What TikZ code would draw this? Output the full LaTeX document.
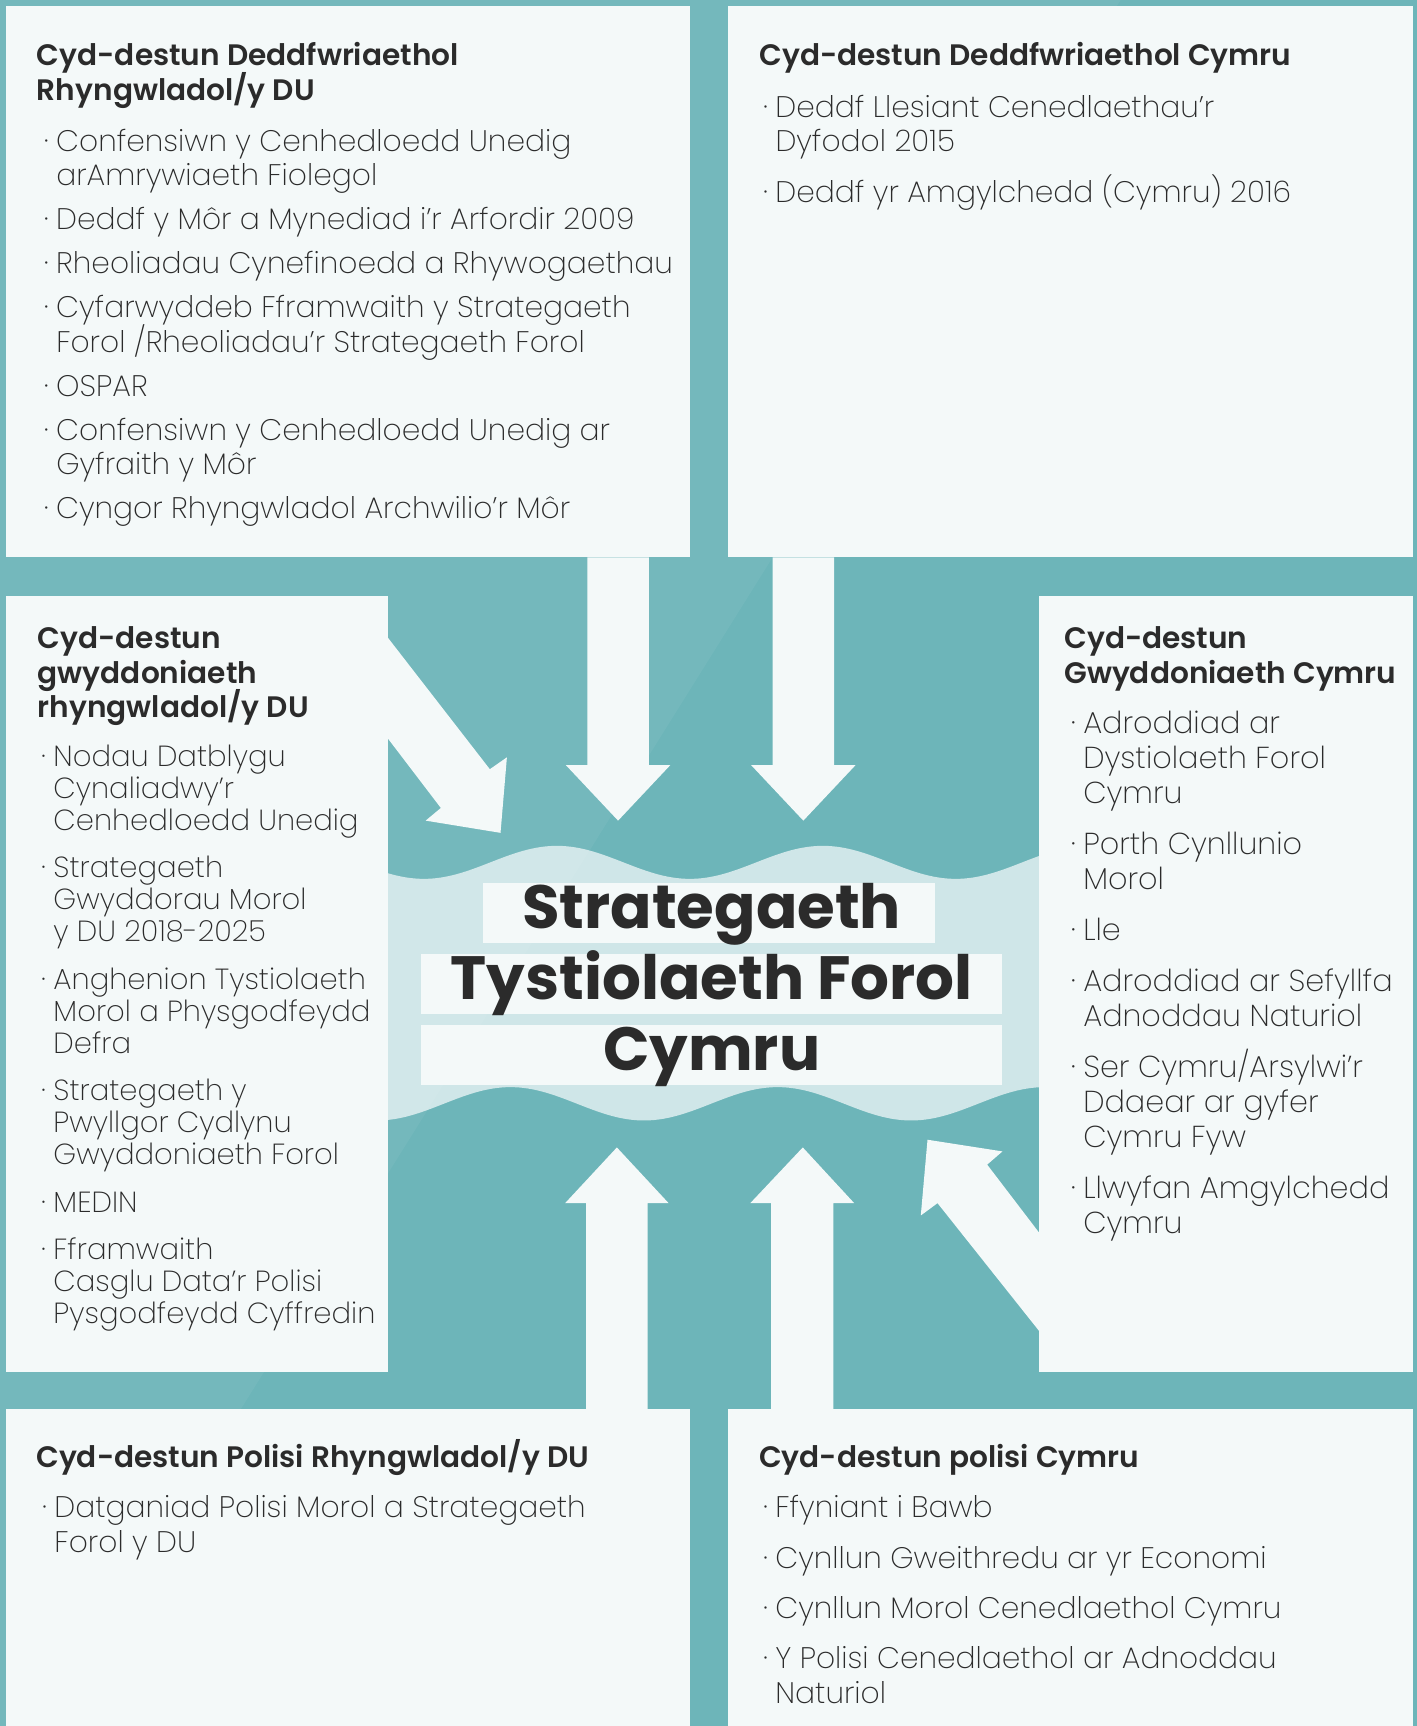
\documentclass[tikz,border=0pt]{standalone}
\usepackage{fontspec}
\setmainfont{Poppins ExtraLight}[BoldFont={Poppins SemiBold}]
\newfontfamily\titlefont{Poppins Bold}
\usetikzlibrary{positioning}

\definecolor{sea}{HTML}{6DB5B9}
\definecolor{paper}{HTML}{F4F9F9}
\definecolor{shallow}{HTML}{CFE6E8}
\definecolor{ink}{HTML}{2B2B2B}

\newcommand{\dotitem}{\llap{·\hspace{7pt}}}
% lines on a fixed baseline grid, \gap between items
\newcommand{\stack}[2][0pt]{\vtop{\lineskiplimit=-\maxdimen\let\\\cr\def\gap{\noalign{\vskip#1}}\halign{##\hfil\cr#2\crcr}}}

\begin{document}
\begin{tikzpicture}[x=1pt,y=-1pt,
    panel/.style={fill=paper,inner sep=0pt,anchor=north west},
    head/.style={inner sep=0pt,anchor=base west,text=ink,font=\fontsize{26.9}{31.3}\selectfont\bfseries},
    list/.style={inner sep=0pt,anchor=base west,text=ink,font=\fontsize{27}{31.3}\selectfont},
    titlebar/.style={fill=paper,inner sep=0pt,text height=41.5pt,text depth=13.5pt,text=ink,font=\titlefont\fontsize{55.5}{60}\selectfont},
    blockarrow/.style={fill=paper}]

    \useasboundingbox (0,0) rectangle (1287,1568);
    \fill[sea] (0,0) rectangle (1287,1568);

    % sea band with waves
    \fill[shallow] plot[domain=352:944,samples=150] (\x,{783.4-15*cos(((\x-505.9)/241.6)*360)})
        -- plot[domain=944:352,samples=150] (\x,{1002.75-15.15*cos(((\x-463.7)/242.7)*360)}) -- cycle;
    \fill[white,opacity=.05] (0,0) -- (1018,0) -- (39,1568) -- (0,1568) -- cycle;

    % panels
    \node[panel,minimum width=622pt,minimum height=501pt] (tl) at (5,5) {};
    \node[panel,minimum width=622pt,minimum height=501pt] (tr) at (661,5) {};
    \node[panel,minimum width=347pt,minimum height=705pt] (ml) at (5,541) {};
    \node[panel,minimum width=339pt,minimum height=705pt] (mr) at (944,541) {};
    \node[panel,minimum width=622pt,minimum height=288pt] (bl) at (5,1280) {};
    \node[panel,minimum width=622pt,minimum height=288pt] (br) at (661,1280) {};

    % top left
    \node[head] (tlhead) at ([shift={(28.4,54.8)}]tl.north west) {\stack{Cyd-destun Deddfwriaethol\\Rhyngwladol/y DU}};
    \node[list] (tllist) at ([shift={(17.5,77.5)}]tlhead.base west) {\stack[8.7pt]{
        \dotitem Confensiwn y Cenhedloedd Unedig\\
        arAmrywiaeth Fiolegol\\\gap
        \dotitem Deddf y Môr a Mynediad i’r Arfordir 2009\\\gap
        \dotitem Rheoliadau Cynefinoedd a Rhywogaethau\\\gap
        \dotitem Cyfarwyddeb Fframwaith y Strategaeth\\
        Forol /Rheoliadau’r Strategaeth Forol\\\gap
        \dotitem OSPAR\\\gap
        \dotitem Confensiwn y Cenhedloedd Unedig ar\\
        Gyfraith y Môr\\\gap
        \dotitem Cyngor Rhyngwladol Archwilio’r Môr}};

    % top right
    \node[head] (trhead) at ([shift={(28.7,54.8)}]tr.north west) {Cyd-destun Deddfwriaethol Cymru};
    \node[list] (trlist) at ([shift={(14.6,46.5)}]trhead.base west) {\stack[15pt]{
        \dotitem Deddf Llesiant Cenedlaethau’r\\
        Dyfodol 2015\\\gap
        \dotitem Deddf yr Amgylchedd (Cymru) 2016}};

    % middle left
    \node[head] (mlhead) at ([shift={(29.2,48.4)}]ml.north west) {\stack{Cyd-destun\\gwyddoniaeth\\rhyngwladol/y DU}};
    \node[list,font=\fontsize{26.4}{29.1}\selectfont] (mllist) at ([shift={(14.2,106.5)}]mlhead.base west) {\stack[14pt]{
        \dotitem Nodau Datblygu\\
        Cynaliadwy’r\\
        Cenhedloedd Unedig\\\gap
        \dotitem Strategaeth\\
        Gwyddorau Morol\\
        y DU 2018-2025\\\gap
        \dotitem Anghenion Tystiolaeth\\
        Morol a Physgodfeydd\\
        Defra\\\gap
        \dotitem Strategaeth y\\
        Pwyllgor Cydlynu\\
        Gwyddoniaeth Forol\\\gap
        \dotitem MEDIN\\\gap
        \dotitem Fframwaith\\
        Casglu Data’r Polisi\\
        Pysgodfeydd Cyffredin}};

    % middle right
    \node[head] (mrhead) at ([shift={(22.7,48.4)}]mr.north west) {\stack{Cyd-destun\\Gwyddoniaeth Cymru}};
    \node[list,font=\fontsize{27.5}{31.7}\selectfont] (mrlist) at ([shift={(17.2,77.4)}]mrhead.base west) {\stack[14.6pt]{
        \dotitem Adroddiad ar\\
        Dystiolaeth Forol\\
        Cymru\\\gap
        \dotitem Porth Cynllunio\\
        Morol\\\gap
        \dotitem Lle\\\gap
        \dotitem Adroddiad ar Sefyllfa\\
        Adnoddau Naturiol\\\gap
        \dotitem Ser Cymru/Arsylwi’r\\
        Ddaear ar gyfer\\
        Cymru Fyw\\\gap
        \dotitem Llwyfan Amgylchedd\\
        Cymru}};

    % bottom left
    \node[head] (blhead) at ([shift={(27.8,53.5)}]bl.north west) {Cyd-destun Polisi Rhyngwladol/y DU};
    \node[list,font=\fontsize{27}{31.7}\selectfont] (bllist) at ([shift={(16.5,45.5)}]blhead.base west) {\stack{
        \dotitem Datganiad Polisi Morol a Strategaeth\\
        Forol y DU}};

    % bottom right
    \node[head] (brhead) at ([shift={(28.5,53.5)}]br.north west) {Cyd-destun polisi Cymru};
    \node[list,font=\fontsize{27}{31.7}\selectfont] (brlist) at ([shift={(14.7,45.5)}]brhead.base west) {\stack[14pt]{
        \dotitem Ffyniant i Bawb\\\gap
        \dotitem Cynllun Gweithredu ar yr Economi\\\gap
        \dotitem Cynllun Morol Cenedlaethol Cymru\\\gap
        \dotitem Y Polisi Cenedlaethol ar Adnoddau\\
        Naturiol}};

    % arrows into the centre
    \fill[blockarrow] (533.5,0 |- tl.south) -- (533.5,695) -- (514,695) -- (561.5,745.5) -- (609,695) -- (589.5,695) -- (589.5,0 |- tl.south) -- cycle;
    \fill[blockarrow] (701.8,0 |- tr.south) -- (701.8,695) -- (682.3,695) -- (729.8,745.5) -- (777.3,695) -- (757.8,695) -- (757.8,0 |- tr.south) -- cycle;
    \fill[blockarrow] (532.4,0 |- bl.north) -- (532.4,1093) -- (513.4,1093) -- (560.4,1042.4) -- (607.4,1093) -- (588.4,1093) -- (588.4,0 |- bl.north) -- cycle;
    \fill[blockarrow] (700.6,0 |- br.north) -- (700.6,1093) -- (681.6,1093) -- (729.3,1042.4) -- (776,1093) -- (757,1093) -- (757,0 |- br.north) -- cycle;
    \fill[blockarrow] (345,569.8) -- (445,698.8) -- (460.5,688) -- (454.7,756.6) -- (386.7,745.5) -- (400.5,734) -- (345,661.2) -- cycle;
    \fill[blockarrow] (950,1127.7) -- (896.8,1058) -- (910.7,1046) -- (842.6,1035.4) -- (836.5,1104.2) -- (851.7,1093) -- (950,1216.7) -- cycle;

    % title
    \node[titlebar,minimum width=410pt] (t1) at (644,829.6) {\hspace{5pt}Strategaeth};
    \node[titlebar,minimum width=528pt] (t2) at (646.5,894.1) {Tystiolaeth Forol};
    \node[titlebar,minimum width=528pt] (t3) at (646.5,958.5) {Cymru};
\end{tikzpicture}
\end{document}
